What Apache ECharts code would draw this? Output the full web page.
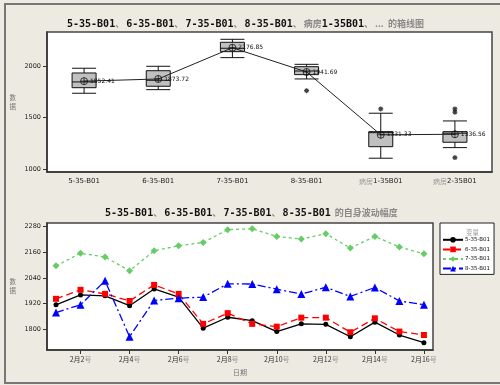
<!DOCTYPE html>
<html>
<head>
<meta charset="utf-8">
<script src="https://cdn.jsdelivr.net/npm/echarts@6/dist/echarts.min.js"></script>
<style>
  html, body { margin: 0; padding: 0; background: #EDEAE2; overflow: hidden; }
  #chart { width: 500px; height: 385px; }
</style>
</head>
<body>
<div id="chart"></div>
<script>
// ---- Box plot: per-location summaries ----
const boxCategories = ['5-35-B01', '6-35-B01', '7-35-B01', '8-35-B01', '病房1-35B01', '病房2-35B01'];
// [min whisker, Q1, median, Q3, max whisker]
const boxLow    = [1735, 1770, 2081, 1874, 1104, 1207];
const boxQ1     = [1789, 1803, 2139, 1916, 1216, 1259];
const boxMedian = [1845, 1861, 2172, 1951, 1352, 1347];
const boxQ3     = [1932, 1954, 2230, 1993, 1362, 1362];
const boxHigh   = [1978, 1997, 2259, 2016, 1541, 1466];
const boxMeans  = [1852.41, 1873.72, 2176.85, 1941.69, 1331.33, 1336.56];
// outliers: [category index, value]
const outlierCat = [3, 4, 5, 5, 5];
const outlierVal = [1760, 1583, 1583, 1551, 1110];
const boxTicks = [1000, 1500, 2000];

// ---- Daily readings, 2月1号 .. 2月16号 ----
const days = [1, 2, 3, 4, 5, 6, 7, 8, 9, 10, 11, 12, 13, 14, 15, 16];
const s5 = [1914, 1960, 1956, 1910, 1988, 1950, 1805, 1856, 1840, 1789, 1825, 1823, 1765, 1833, 1773, 1737];
const s6 = [1942, 1984, 1965, 1932, 2007, 1965, 1825, 1875, 1825, 1812, 1854, 1854, 1786, 1851, 1789, 1773];
const s7 = [2096, 2155, 2137, 2073, 2166, 2190, 2205, 2265, 2269, 2233, 2221, 2246, 2179, 2233, 2184, 2152];
const s8 = [1878, 1914, 2026, 1765, 1934, 1945, 1950, 2012, 2011, 1987, 1964, 1996, 1953, 1995, 1932, 1914];
const lineNames = ['5-35-B01', '6-35-B01', '7-35-B01', '8-35-B01'];
const lineTicksY = [1800, 1920, 2040, 2160, 2280];
const lineTicksX = [2, 4, 6, 8, 10, 12, 14, 16];

const FONT = '"DejaVu Sans", "Noto Sans CJK SC", sans-serif';
const MONO = '"DejaVu Sans Mono", "Noto Sans CJK SC", monospace';
const CJK = '"Noto Sans CJK SC", sans-serif';
const AXIS_COLOR = '#333';
const BG = '#EDEAE2';

const chart = echarts.init(document.getElementById('chart'), null, { renderer: 'canvas' });

const boxData = boxCategories.map((_, i) => [boxLow[i], boxQ1[i], boxMedian[i], boxQ3[i], boxHigh[i]]);
const outlierData = outlierCat.map((c, i) => [c, outlierVal[i]]);
const pair = arr => days.map((d, i) => [d, arr[i]]);
const plain = v => String(v);

const titleRich = {
  b: { fontFamily: MONO, fontWeight: 'bold', fontSize: 10, color: '#111' },
  g: { fontFamily: CJK, fontSize: 9, color: '#888' }
};

const asterisk = 'path://M5,0L5,10M0,5L10,5M1.5,1.5L8.5,8.5M8.5,1.5L1.5,8.5';
const circlePlus = 'path://M0,5A5,5 0 1 1 10,5A5,5 0 1 1 0,5ZM5,0L5,10M0,5L10,5';

function catLabel(v) {
  if (v.indexOf('病房') === 0) return '{g|病房}{n|' + v.slice(2) + '}';
  return '{n|' + v + '}';
}

const yName = {
  name: '数\n据', nameLocation: 'middle', nameGap: 31, nameRotate: 0, nameMoveOverlap: false,
  nameTextStyle: { fontFamily: CJK, fontSize: 6.5, color: '#777', lineHeight: 9 }
};

const option = {
  backgroundColor: BG,
  animation: false,
  title: [
    {
      left: 62, top: 14,
      text: '{b|5-35-B01}{g|、 }{b|6-35-B01}{g|、 }{b|7-35-B01}{g|、 }{b|8-35-B01}{g|、 病房}{b|1-35B01}{g|、 ...  的箱线图}',
      textStyle: { rich: titleRich }
    },
    {
      left: 100, top: 203,
      text: '{b|5-35-B01}{g|、 }{b|6-35-B01}{g|、 }{b|7-35-B01}{g|、 }{b|8-35-B01}{g|  的自身波动幅度}',
      textStyle: { rich: titleRich }
    },
    {
      left: 461, top: 224,
      text: '变量',
      textStyle: { fontFamily: CJK, fontSize: 6.5, color: '#999', fontWeight: 'normal' }
    }
  ],
  graphic: [
    {
      type: 'polyline', silent: true, z: 0,
      shape: { points: [[502, 4], [5, 4], [5, 383], [502, 383]] },
      style: { fill: 'none', stroke: '#777', lineWidth: 2 }
    }
  ],
  legend: {
    data: lineNames,
    orient: 'vertical',
    left: 440, top: 223,
    width: 58,
    padding: [14, 4, 3, 2],
    itemGap: 4,
    itemWidth: 20, itemHeight: 7,
    backgroundColor: '#FFFFFF',
    borderColor: '#222', borderWidth: 1,
    textStyle: { fontFamily: FONT, fontSize: 5.5, color: '#111', padding: [0, 0, 0, -3] }
  },
  grid: [
    { left: 47, top: 32, right: 8, bottom: 213, show: true, backgroundColor: '#FFFFFF', borderColor: '#444', borderWidth: 1.5 },
    { left: 47, top: 223, right: 67, bottom: 35, show: true, backgroundColor: '#FFFFFF', borderColor: '#444', borderWidth: 1.5 }
  ],
  xAxis: [
    {
      gridIndex: 0, type: 'category', data: boxCategories, boundaryGap: true,
      axisLine: { lineStyle: { color: AXIS_COLOR, width: 1.5 } },
      axisTick: { alignWithLabel: true, length: 4, lineStyle: { color: AXIS_COLOR } },
      axisLabel: {
        interval: 0, margin: 6, formatter: catLabel,
        rich: {
          n: { fontFamily: FONT, fontSize: 7, color: '#222' },
          g: { fontFamily: CJK, fontSize: 7, color: '#999' }
        }
      },
      splitLine: { show: false }
    },
    {
      gridIndex: 1, type: 'value', min: 0.633, max: 16.37,
      axisLine: { onZero: false, lineStyle: { color: AXIS_COLOR, width: 1.5 } },
      axisTick: { customValues: lineTicksX, length: 4, lineStyle: { color: AXIS_COLOR } },
      axisLabel: {
        customValues: lineTicksX, margin: 6,
        formatter: v => '{n|2月' + v + '}{g|号}',
        rich: {
          n: { fontFamily: CJK, fontSize: 7, color: '#333' },
          g: { fontFamily: CJK, fontSize: 7, color: '#999' }
        }
      },
      splitLine: { show: false },
      name: '日期', nameLocation: 'middle', nameGap: 19, nameMoveOverlap: false,
      nameTextStyle: { fontFamily: CJK, fontSize: 7, color: '#777' }
    }
  ],
  yAxis: [
    Object.assign({
      gridIndex: 0, type: 'value', min: 970, max: 2330,
      axisLine: { show: true, lineStyle: { color: AXIS_COLOR, width: 1.5 } },
      axisTick: { show: true, customValues: boxTicks, length: 4, lineStyle: { color: AXIS_COLOR } },
      axisLabel: { customValues: boxTicks, formatter: plain, margin: 6, fontFamily: FONT, fontSize: 6.5, color: '#222' },
      splitLine: { show: false }
    }, yName),
    Object.assign({
      gridIndex: 1, type: 'value', min: 1703, max: 2296,
      axisLine: { show: true, onZero: false, lineStyle: { color: AXIS_COLOR, width: 1.5 } },
      axisTick: { show: true, customValues: lineTicksY, length: 4, lineStyle: { color: AXIS_COLOR } },
      axisLabel: { customValues: lineTicksY, formatter: plain, margin: 6, fontFamily: FONT, fontSize: 6.5, color: '#222' },
      splitLine: { show: false }
    }, yName)
  ],
  series: [
    {
      type: 'boxplot', xAxisIndex: 0, yAxisIndex: 0,
      data: boxData, boxWidth: [24, 24],
      itemStyle: { color: '#C0C0C0', borderColor: '#111', borderWidth: 1 }
    },
    {
      type: 'line', xAxisIndex: 0, yAxisIndex: 0, z: 5,
      data: boxMeans,
      symbol: circlePlus, symbolSize: 7,
      itemStyle: { color: 'rgba(0,0,0,0)', borderColor: '#111', borderWidth: 0.8 },
      lineStyle: { color: '#222', width: 1 },
      label: {
        show: true, position: 'right', distance: 2,
        formatter: p => p.value.toFixed(2),
        fontFamily: FONT, fontSize: 6, color: '#111'
      }
    },
    {
      type: 'scatter', xAxisIndex: 0, yAxisIndex: 0,
      data: outlierData,
      symbol: asterisk, symbolSize: 5,
      itemStyle: { color: '#111', borderColor: '#111', borderWidth: 1.2 }
    },
    {
      name: lineNames[0], type: 'line', xAxisIndex: 1, yAxisIndex: 1,
      data: pair(s5), symbol: 'circle', symbolSize: 5,
      itemStyle: { color: '#000' },
      lineStyle: { color: '#000', width: 1.3, type: 'solid' }
    },
    {
      name: lineNames[1], type: 'line', xAxisIndex: 1, yAxisIndex: 1,
      data: pair(s6), symbol: 'rect', symbolSize: 6,
      itemStyle: { color: '#FF0000' },
      lineStyle: { color: '#FF0000', width: 1.3, type: [7, 4] }
    },
    {
      name: lineNames[2], type: 'line', xAxisIndex: 1, yAxisIndex: 1,
      data: pair(s7), symbol: 'diamond', symbolSize: 7,
      itemStyle: { color: '#66CC66' },
      lineStyle: { color: '#66CC66', width: 1.3, type: [3, 3] }
    },
    {
      name: lineNames[3], type: 'line', xAxisIndex: 1, yAxisIndex: 1,
      data: pair(s8), symbol: 'triangle', symbolSize: 8,
      itemStyle: { color: '#0000FF' },
      lineStyle: { color: '#0000FF', width: 1.3, type: [8, 3, 2, 3] }
    }
  ]
};

chart.setOption(option);
</script>
</body>
</html>
